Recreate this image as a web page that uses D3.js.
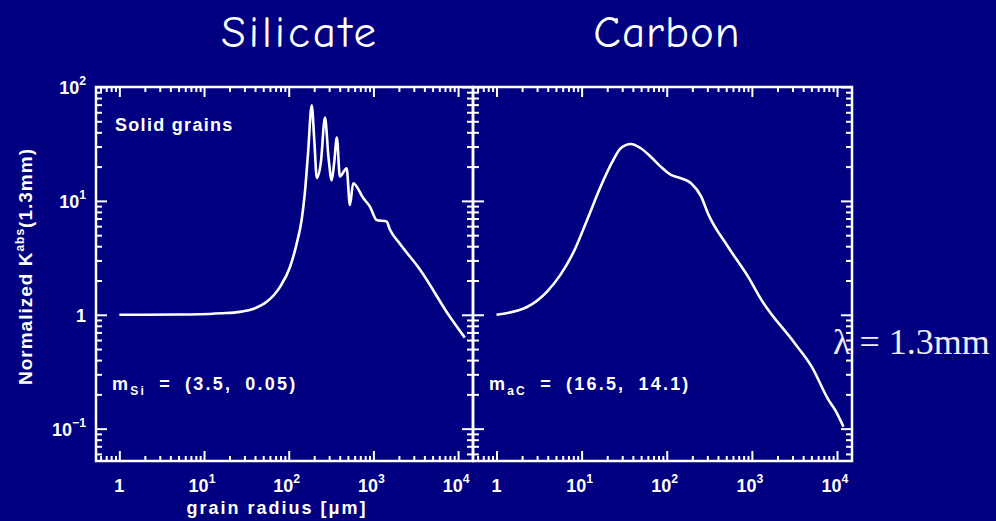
<!DOCTYPE html>
<html>
<head>
<meta charset="utf-8">
<script src="https://cdn.jsdelivr.net/npm/d3@7"></script>
<style>
  html, body { margin: 0; padding: 0; background: #000080; }
  svg { display: block; }
</style>
</head>
<body>
<svg id="chart" width="996" height="521"></svg>
<script>
// Grain radius (µm) and normalized absorption opacity at 1.3 mm
const silicateRadius = [1, 2, 5, 9, 16, 26.6, 40, 55, 79, 103, 125, 142, 155, 169, 187, 200, 215, 240, 268, 295, 322, 345, 370, 402, 483, 528, 577, 758, 910, 1091, 1432, 1566, 2056, 3542, 8000, 12000];
const silicateK      = [1.0, 1.0, 1.005, 1.01, 1.03, 1.06, 1.14, 1.3, 1.76, 2.6, 4.3, 6.8, 11.7, 26, 69, 35, 15.9, 22, 54, 24, 15.2, 22, 36, 16.4, 19.3, 9.2, 14.3, 10.6, 8.9, 6.8, 6.6, 5.6, 4.2, 2.5, 0.96, 0.63];

const carbonRadius = [1, 2.28, 3.93, 5.63, 8.09, 11.6, 16.7, 23, 28.8, 37.8, 49.5, 65, 85, 112, 135, 193, 254, 304, 524, 902, 1295, 3200, 5040, 7940, 9500, 11900];
const carbonK      = [1.0, 1.17, 1.6, 2.24, 3.58, 6.8, 13.3, 22.1, 29, 31.6, 29, 24.4, 20, 16.9, 16.1, 14.3, 10.9, 7.8, 3.96, 2.16, 1.35, 0.56, 0.35, 0.179, 0.146, 0.104];

const panelTitles = ["Silicate", "Carbon"];
const panelNotes  = [["m", "Si", " = (3.5, 0.05)"], ["m", "aC", " = (16.5, 14.1)"]];
const xMajorExp = [0, 1, 2, 3, 4];
const yMajorExp = [-1, 0, 1, 2];

const radiusDomain = [0.53, 15000];
const kDomain = [0.052, 100];

const svg = d3.select("#chart");
const fg = "#ffffff";
const tickFont = "'Liberation Sans', Arial, sans-serif";

svg.append("rect").attr("width", 996).attr("height", 521).attr("fill", "#000080");

const plotTop = 87, plotBottom = 461;
const panels = [
  { x0: 96, x1: 473, r: silicateRadius, k: silicateK },
  { x0: 473, x1: 852, r: carbonRadius, k: carbonK }
];

const y = d3.scaleLog().domain(kDomain).range([plotBottom, plotTop]);

function logTicks(domain) {
  const major = [], minor = [];
  const lo = Math.floor(Math.log10(domain[0])), hi = Math.ceil(Math.log10(domain[1]));
  for (let d = lo; d <= hi; d++) {
    for (let m = 1; m <= 9; m++) {
      const v = m * Math.pow(10, d);
      if (v < domain[0] * 0.999 || v > domain[1] * 1.001) continue;
      (m === 1 ? major : minor).push(v);
    }
  }
  return { major, minor };
}
const xt = logTicks(radiusDomain), yt = logTicks(kDomain);

function styleAxis(g) {
  g.select(".domain").remove();
  g.selectAll("text").remove();
  g.selectAll("line").attr("stroke", fg).attr("stroke-width", 2);
}

function labelPow(sel, exp, x, yBase, anchor, size) {
  const t = sel.append("text")
    .attr("x", x).attr("y", yBase)
    .attr("fill", fg)
    .attr("font-family", tickFont)
    .attr("font-weight", "bold")
    .attr("font-size", size)
    .attr("text-anchor", anchor);
  if (exp === 0) { t.text("1"); return t; }
  t.append("tspan").text("10");
  t.append("tspan").attr("dy", -9).attr("font-size", size * 0.68)
    .text(exp < 0 ? "\u2212" + Math.abs(exp) : String(exp));
  return t;
}

panels.forEach((p, i) => {
  const x = d3.scaleLog().domain(radiusDomain).range([p.x0, p.x1]);
  const g = svg.append("g");

  // ticks on all four sides, pointing inward
  [[d3.axisBottom, plotBottom], [d3.axisTop, plotTop]].forEach(([ax, pos]) => {
    g.append("g").attr("transform", `translate(0,${pos})`)
      .call(ax(x).tickValues(xt.minor).tickSize(-5).tickSizeOuter(0)).call(styleAxis);
    g.append("g").attr("transform", `translate(0,${pos})`)
      .call(ax(x).tickValues(xt.major).tickSize(-10).tickSizeOuter(0)).call(styleAxis);
  });
  [[d3.axisLeft, p.x0], [d3.axisRight, p.x1]].forEach(([ax, pos]) => {
    g.append("g").attr("transform", `translate(${pos},0)`)
      .call(ax(y).tickValues(yt.minor).tickSize(-6).tickSizeOuter(0)).call(styleAxis);
    g.append("g").attr("transform", `translate(${pos},0)`)
      .call(ax(y).tickValues(yt.major).tickSize(-11).tickSizeOuter(0)).call(styleAxis);
  });

  // frame
  g.append("rect")
    .attr("x", p.x0).attr("y", plotTop)
    .attr("width", p.x1 - p.x0).attr("height", plotBottom - plotTop)
    .attr("fill", "none").attr("stroke", fg).attr("stroke-width", 2.5);

  // curve
  const pts = p.r.map((r, j) => [r, p.k[j]]);
  g.append("path")
    .datum(pts)
    .attr("fill", "none")
    .attr("stroke", fg)
    .attr("stroke-width", 2.6)
    .attr("stroke-linejoin", "round")
    .attr("d", d3.line().x(d => x(d[0])).y(d => y(d[1])).curve(d3.curveMonotoneX));

  // x tick labels
  xMajorExp.forEach(e => {
    const xv = x(Math.pow(10, e));
    labelPow(g, e, e === 0 ? xv : xv - 2, 492, "middle", 18);
  });

  // panel title
  svg.append("text")
    .attr("x", i === 0 ? 300 : 667).attr("y", 47)
    .attr("fill", fg)
    .attr("font-family", "'Comic Sans MS', 'Comic Neue', Lato, sans-serif")
    .attr("font-size", 45)
    .attr("letter-spacing", i === 0 ? 3 : 1)
    .attr("text-anchor", "middle")
    .text(panelTitles[i]);

  // refractive index note
  const n = panelNotes[i];
  const nt = g.append("text")
    .attr("x", p.x0 + 16).attr("y", 390)
    .attr("fill", fg)
    .attr("font-family", tickFont)
    .attr("font-weight", "bold")
    .attr("font-size", 18)
    .attr("letter-spacing", 2.2)
    .attr("word-spacing", 6);
  nt.append("tspan").text(n[0]);
  nt.append("tspan").attr("dy", 5).attr("font-size", 12).text(n[1]);
  nt.append("tspan").attr("dy", -5).text(n[2]);
});

// y tick labels on the left panel
yMajorExp.forEach(e => {
  labelPow(svg, e, 86, y(Math.pow(10, e)) + 7, "end", 18);
});

// y axis title
const yTitle = svg.append("text")
  .attr("transform", "translate(32,385) rotate(-90)")
  .attr("fill", fg)
  .attr("font-family", tickFont)
  .attr("font-weight", "bold")
  .attr("font-size", 19)
  .attr("letter-spacing", 1)
  .attr("text-anchor", "start");
yTitle.append("tspan").text("Normalized K");
yTitle.append("tspan").attr("dy", -8).attr("font-size", 12).text("abs");
yTitle.append("tspan").attr("dy", 8).text("(1.3mm)");

// x axis title
svg.append("text")
  .attr("x", 277).attr("y", 514)
  .attr("fill", fg)
  .attr("font-family", tickFont)
  .attr("font-weight", "bold")
  .attr("font-size", 18)
  .attr("letter-spacing", 2)
  .attr("text-anchor", "middle")
  .text("grain radius [\u03bcm]");

// in-panel label
svg.append("text")
  .attr("x", 115).attr("y", 131)
  .attr("fill", fg)
  .attr("font-family", tickFont)
  .attr("font-weight", "bold")
  .attr("font-size", 18)
  .attr("letter-spacing", 1.3)
  .text("Solid grains");

// wavelength note
svg.append("text")
  .attr("x", 833).attr("y", 354)
  .attr("fill", "#eeeef6")
  .attr("font-family", "'Liberation Serif', 'Times New Roman', serif")
  .attr("font-size", 36)
  .text("\u03bb = 1.3mm");
</script>
</body>
</html>
